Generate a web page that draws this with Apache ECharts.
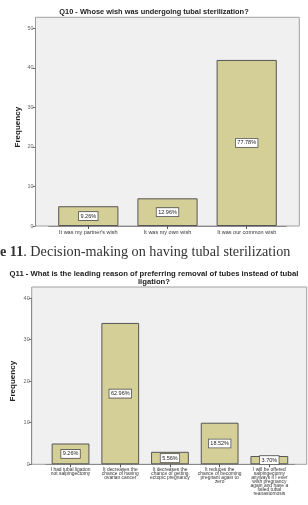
<!DOCTYPE html>
<html>
<head>
<meta charset="UTF-8">
<title>Q10 / Q11 tubal sterilization</title>
<script src="https://cdn.jsdelivr.net/npm/echarts@6/dist/echarts.min.js"></script>
<style>
html, body { margin: 0; padding: 0; background: #fff; }
#main { width: 308px; height: 505px; }
</style>
</head>
<body>
<div id="main"></div>
<script>
// Q10 - whose wish
var q10Categories = ["It was my partner's wish", 'It was my own wish', 'It was our common wish'];
var q10Counts = [5, 7, 42];
var q10Ticks = [0, 10, 20, 30, 40, 50];

// Q11 - leading reason
var q11Categories = [
	'I had tubal ligation\nnot salpingectomy',
	'It decreases the\nchance of having\novarian cancer',
	'It decreases the\nchance of getting\nectopic pregnancy',
	'It reduces the\nchance of becoming\npregnant again to\nzero',
	'I will be offered\nsalpingectomy\nanyways if I ever\nwish pregnancy\nagain and have a\nfailed tubal\nreanastomosis'
];
var q11Counts = [5, 34, 3, 10, 2];
var q11Ticks = [0, 10, 20, 30, 40];

var FONT = 'Liberation Sans, Arial, sans-serif';
var SERIF = 'Liberation Serif, Times New Roman, serif';
var BAR = '#d4cf97';

function pct(counts) {
	var total = counts.reduce(function(a, b) { return a + b; }, 0);
	return function(p) {
		return (p.value / total * 100).toFixed(2) + '%';
	};
}

function hiddenAxis(type, idx) {
	return { type: type, gridIndex: idx, show: false, min: 0, max: 1 };
}

function valueAxis(idx, ticks, offset, gap) {
	return {
		type: 'value', gridIndex: idx, offset: offset,
		min: ticks[0], max: ticks[ticks.length - 1], interval: ticks[1] - ticks[0],
		name: 'Frequency', nameLocation: 'middle', nameRotate: 90, nameGap: gap,
		nameMoveOverlap: false,
		nameTextStyle: { fontFamily: FONT, fontSize: 8, fontWeight: 'bold', color: '#222' },
		axisLine: { show: true, lineStyle: { color: '#8a8a8a', width: 1 } },
		axisTick: { show: true, length: 3, lineStyle: { color: '#777' } },
		axisLabel: { fontFamily: FONT, fontSize: 5.5, color: '#666', margin: 2 },
		splitLine: { show: false }
	};
}

function catAxis(idx, cats, size, lh, margin) {
	return {
		type: 'category', gridIndex: idx, data: cats,
		axisLine: { show: true, lineStyle: { color: '#8a8a8a', width: 1 } },
		axisTick: { show: true, alignWithLabel: true, length: 3, lineStyle: { color: '#555' } },
		axisLabel: { interval: 0, fontFamily: FONT, fontSize: size, lineHeight: lh, color: '#333', margin: margin }
	};
}

function barSeries(idx, counts) {
	return {
		type: 'bar', xAxisIndex: idx, yAxisIndex: idx, data: counts,
		barCategoryGap: '24%',
		itemStyle: { color: BAR, borderColor: '#555', borderWidth: 1 },
		label: {
			show: true, position: 'inside', formatter: pct(counts),
			fontFamily: FONT, fontSize: 5.5, color: '#222',
			backgroundColor: '#fff', borderColor: '#555', borderWidth: 0.8, padding: [1, 1.5]
		},
		silent: true
	};
}

var frameStyle = { show: true, backgroundColor: '#f0f0f0', borderColor: '#a0a0a0', borderWidth: 1 };

var myChart = echarts.init(document.getElementById('main'), null, { renderer: 'canvas' });
var option = {
	backgroundColor: '#fff',
	animation: false,
	title: [
		{
			text: 'Q10 - Whose wish was undergoing tubal sterilization?',
			left: 'center', top: 8, padding: 0,
			textStyle: { fontFamily: FONT, fontSize: 7.4, fontWeight: 'bold', color: '#222' }
		},
		{
			text: '{b|e 11}. Decision-making on having tubal sterilization',
			left: 0, top: 245, padding: 0,
			textStyle: {
				fontFamily: SERIF, fontSize: 14.2, fontWeight: 'normal', color: '#333',
				rich: { b: { fontFamily: SERIF, fontSize: 14.2, fontWeight: 'bold', color: '#333' } }
			}
		},
		{
			text: 'Q11 - What is the leading reason of preferring removal of tubes instead of tubal\nligation?',
			left: 'center', top: 269.5, padding: 0,
			textStyle: { fontFamily: FONT, fontSize: 7.7, fontWeight: 'bold', color: '#222', lineHeight: 8 }
		}
	],
	grid: [
		Object.assign({ left: 35.5, top: 17.3, width: 263.8, height: 208.7 }, frameStyle),
		{ left: 48.7, top: 28.3, width: 237.6, height: 197.7 },
		Object.assign({ left: 31.7, top: 287, width: 275, height: 177.3 }, frameStyle),
		{ left: 45.7, top: 298, width: 248.5, height: 166.3 }
	],
	xAxis: [
		hiddenAxis('value', 0),
		catAxis(1, q10Categories, 5.5, 6, 3),
		hiddenAxis('value', 2),
		catAxis(3, q11Categories, 4.9, 4.1, 3)
	],
	yAxis: [
		hiddenAxis('value', 0),
		valueAxis(1, q10Ticks, 13.2, 13.5),
		hiddenAxis('value', 2),
		valueAxis(3, q11Ticks, 14, 14.5)
	],
	series: [
		barSeries(1, q10Counts),
		barSeries(3, q11Counts)
	]
};
myChart.setOption(option);
</script>
</body>
</html>
